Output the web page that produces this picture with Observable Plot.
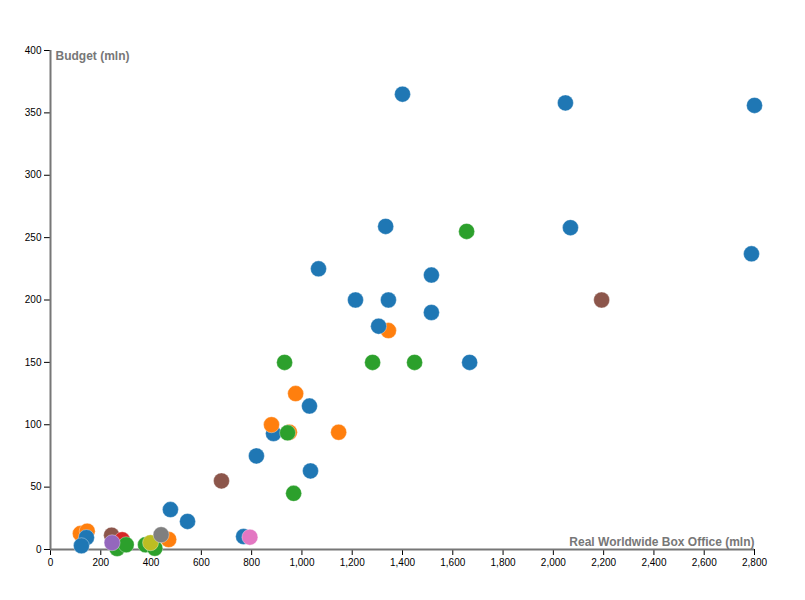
<!DOCTYPE html>
<html>
<head>
<meta charset="utf-8">
<script src="https://cdn.jsdelivr.net/npm/d3@7"></script>
<script src="https://cdn.jsdelivr.net/npm/@observablehq/plot@0.6"></script>
<style>
  html, body { margin: 0; padding: 0; background: #fff; }
  #chart { width: 805px; height: 600px; }
</style>
</head>
<body>
<div id="chart"></div>
<script>
// Groups (colour categories, in category10 order)
const groups = ["g1", "g2", "g3", "g4", "g5", "g6", "g7", "g8", "g9"];
const palette = ["#1f77b4", "#ff7f0e", "#2ca02c", "#d62728", "#9467bd", "#8c564b", "#e377c2", "#7f7f7f", "#bcbd22"];

// Points in drawing order
const boxOffice = [1400, 2048, 2800, 1333, 2068, 2788, 1066, 1515, 1213, 1344, 1515, 1667, 1030, 1034, 477, 545, 819,
  1655, 931, 1281, 1448, 967, 2192, 680,
  1344, 1305, 975, 1146,
  887, 879, 950, 943,
  119, 146, 143, 123,
  243, 285, 265, 301, 245,
  378, 415, 398,
  470, 440,
  768, 793];
const budget = [365, 358, 356, 259, 258, 237, 225, 220, 200, 200, 190, 150, 115, 63, 32, 22.5, 75,
  255, 150, 150, 150, 45, 200, 55,
  175.5, 179, 125, 94,
  93, 100, 94, 93.5,
  12.8, 14.7, 9.6, 3,
  11.5, 7.8, 0.8, 3.8, 5.4,
  3.8, 1, 5.4,
  8, 11.8,
  10.4, 9.9];
const group = ["g1", "g1", "g1", "g1", "g1", "g1", "g1", "g1", "g1", "g1", "g1", "g1", "g1", "g1", "g1", "g1", "g1",
  "g3", "g3", "g3", "g3", "g3", "g6", "g6",
  "g2", "g1", "g2", "g2",
  "g1", "g2", "g2", "g3",
  "g2", "g2", "g1", "g1",
  "g6", "g4", "g3", "g3", "g5",
  "g3", "g3", "g9",
  "g2", "g8",
  "g1", "g7"];

const xTicks = [0, 200, 400, 600, 800, 1000, 1200, 1400, 1600, 1800, 2000, 2200, 2400, 2600, 2800];
const yTicks = [0, 50, 100, 150, 200, 250, 300, 350, 400];
const xLabel = "Real Worldwide Box Office (mln)";
const yLabel = "Budget (mln)";

const data = boxOffice.map((x, i) => ({x, y: budget[i], g: group[i]}));

const chart = Plot.plot({
  width: 805,
  height: 600,
  marginLeft: 50,
  marginRight: 51,
  marginTop: 50,
  marginBottom: 51,
  style: {fontFamily: "'Liberation Sans', Arial, Helvetica, sans-serif", fontSize: "10px", background: "#fff", color: "#000"},
  x: {domain: [0, 2800], nice: false},
  y: {domain: [0, 400], nice: false},
  color: {domain: groups, range: palette},
  marks: [
    Plot.axisX({ticks: xTicks, tickSize: 6, tickPadding: 3, tickFormat: d3.format(","), label: null, fontSize: 10}),
    Plot.axisY({ticks: yTicks, tickSize: 6, tickPadding: 3, tickFormat: d3.format(","), label: null, fontSize: 10}),
    Plot.ruleY([0], {stroke: "#777", strokeWidth: 2}),
    Plot.ruleX([0], {stroke: "#777", strokeWidth: 2}),
    Plot.dot(data, {x: "x", y: "y", fill: "g", r: 8, stroke: "#fff", strokeWidth: 1, strokeOpacity: 0.35}),
    Plot.text([yLabel], {frameAnchor: "top-left", dx: 5, dy: 1, lineAnchor: "top", fontWeight: "bold", fill: "#777", fontSize: 12}),
    Plot.text([xLabel], {frameAnchor: "bottom-right", dx: 0, dy: -4, lineAnchor: "bottom", fontWeight: "bold", fill: "#777", fontSize: 12})
  ]
});
document.getElementById("chart").appendChild(chart);
</script>
</body>
</html>
